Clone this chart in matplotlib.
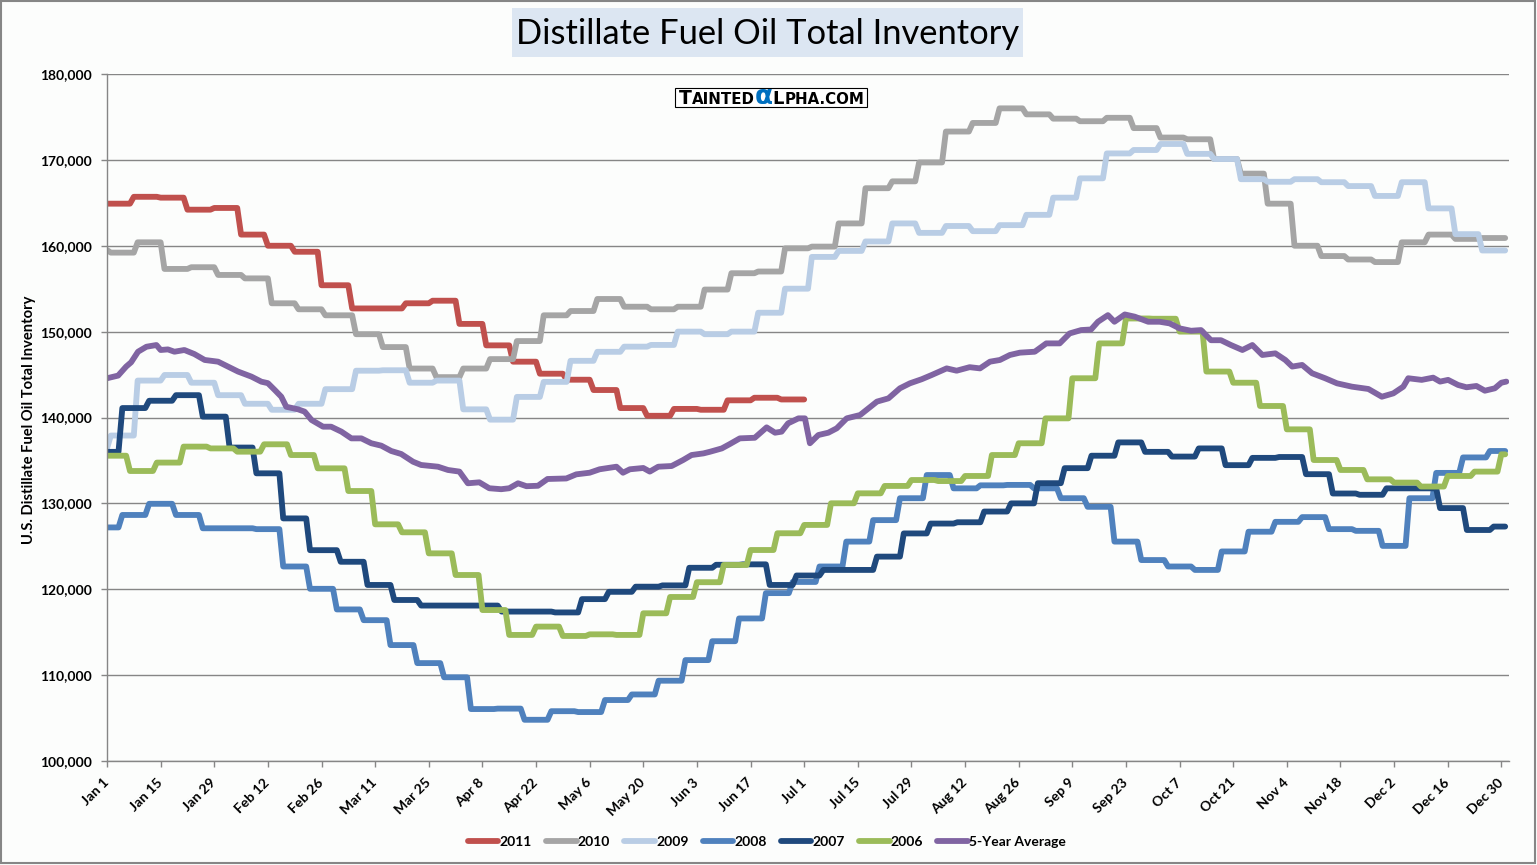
import numpy as np
import matplotlib
matplotlib.use("Agg")
import matplotlib.pyplot as plt
from matplotlib.patches import Rectangle
from matplotlib.text import Annotation

# weekly inventory values (thousand barrels); each year: value carried in before the
# first weekly report, day of the first report, then one value per week
w2011 = [164900, 165700, 165600, 164200, 164400, 161300, 160000, 159300, 155400,
         152700, 152700, 153300, 153600, 150900, 148400, 146500, 145100, 144400,
         143200, 141100, 140200, 141000, 140900, 142000, 142300, 142100]
w2010 = [159200, 160400, 157300, 157500, 156600, 156200, 153300, 152600, 151900,
         149700, 148200, 145700, 144700, 145700, 146800, 148900, 151900, 152400,
         153800, 152900, 152600, 152900, 154900, 156800, 157000, 159700, 159900,
         162600, 166700, 167500, 169700, 173300, 174300, 176000, 175300, 174800,
         174500, 174900, 173700, 172600, 172400, 170100, 168400, 164900, 160000,
         158800, 158400, 158100, 160400, 161300, 160800, 160900]
w2009 = [137900, 144300, 144950, 144050, 142600, 141600, 140900, 141600, 143300,
         145450, 145500, 144050, 144300, 140950, 139750, 142400, 144150, 146600,
         147650, 148250, 148450, 150000, 149700, 150000, 152200, 155000, 158700,
         159400, 160500, 162600, 161500, 162300, 161700, 162400, 163600, 165600,
         167850, 170750, 171150, 171850, 170700, 170100, 167750, 167450, 167750,
         167400, 166950, 165800, 167400, 164350, 161350, 159450]
w2008 = [128650, 129950, 128650, 127100, 127100, 127000, 122650, 120050, 117650,
         116400, 113500, 111400, 109750, 106050, 106100, 104800, 105800, 105700,
         107100, 107750, 109350, 111750, 113950, 116600, 119550, 120850, 122650,
         125550, 128050, 130600, 133300, 131750, 132100, 132150, 131750, 130600,
         129600, 125550, 123400, 122650, 122250, 124400, 126700, 127850, 128400,
         127000, 126800, 125050, 130600, 133550, 135350, 136100]
w2007 = [141100, 141950, 142600, 140100, 136500, 133500, 128250, 124550, 123200,
         120500, 118750, 118100, 118100, 118100, 117400, 117400, 117300, 118850,
         119700, 120300, 120450, 122500, 122850, 122900, 120500, 121600, 122250,
         122250, 123800, 126500, 127650, 127800, 129050, 130000, 132350, 134100,
         135550, 137100, 136000, 135450, 136400, 134450, 135300, 135400, 133400,
         131150, 131000, 131750, 131750, 129450, 126900, 127300]
w2006 = [133770, 134750, 136610, 136400, 136020, 136880, 135630, 134080, 131440,
         127560, 126630, 124180, 121660, 117580, 114680, 115650, 114560, 114750,
         114680, 117200, 119100, 120820, 122830, 124570, 126520, 127490, 130010,
         131170, 132030, 132720, 132600, 133190, 135630, 137000, 139900, 144570,
         148630, 151530, 151500, 150000, 145350, 144050, 141340, 138620, 135050,
         133890, 132800, 132420, 131960, 133190, 133700, 135710]

carry = {"2011": np.nan, "2010": 159500, "2009": 136400,
         "2008": 127200, "2007": 136000, "2006": 135550}
first_report = {"2011": 0, "2010": 1, "2009": 1, "2008": 4, "2007": 4, "2006": 6}
leap_year = {"2011": False, "2010": False, "2009": False,
             "2008": True, "2007": False, "2006": False}
weekly = {"2011": w2011, "2010": w2010, "2009": w2009,
          "2008": w2008, "2007": w2007, "2006": w2006}

# 5-year average (day of year, value)
avg_days = [0, 2.9, 5, 6.3, 8.1, 10.3, 12.9, 14, 15.9, 17.6, 20.2, 22.8, 25.5, 29,
            31.6, 34.2, 37.7, 40.3, 42, 43.8, 45.5, 46.8, 49.9, 51.6, 53.4, 56.4,
            58.5, 61.2, 63.8, 66.4, 69, 71.6, 74.2, 76.8, 79.9, 82, 86.4, 89, 92,
            94.2, 97.2, 99.8, 102.9, 105, 107.3, 109.5, 112.5, 115, 119.9, 122.5,
            126, 128.6, 133, 134.7, 136.5, 140, 141.7, 143.9, 147.4, 150.4, 152.6,
            155.7, 157.4, 160.5, 162.6, 165.2, 169.1, 172.2, 174.4, 176.1, 177.8,
            180.5, 182.2, 183.5, 185.7, 188.3, 190.5, 193.1, 196.6, 198.8, 201, 204,
            207, 209.6, 212.7, 215.3, 219.2, 221.8, 225.2, 227.9, 230.5, 233.1,
            235.7, 238.3, 242.2, 245.2, 248.7, 251.3, 254.3, 256.9, 258.7, 261.3,
            263, 265.7, 268.3, 271.8, 274.8, 277.4, 280, 283, 285.6, 288.2, 290.8,
            293.4, 296.4, 299, 301.6, 305, 307.6, 309.4, 312, 314.6, 318, 321.1,
            325, 329.3, 332.8, 335.8, 338.4, 339.7, 343.2, 346.2, 348, 350.1,
            352.7, 354.9, 357.5, 359.7, 362.3, 364, 365.3]
avg_vals = [144570, 144880, 145930, 146430, 147660, 148240, 148440, 147860, 147930,
            147660, 147860, 147390, 146700, 146500, 145930, 145350, 144760, 144170,
            144000, 143200, 142420, 141250, 140950, 140680, 139710, 138930, 138930,
            138350, 137570, 137570, 137000, 136720, 136100, 135750, 134850, 134470,
            134270, 133890, 133700, 132340, 132450, 131760, 131650, 131760, 132340,
            132000, 132050, 132840, 132900, 133380, 133570, 133970, 134270, 133570,
            133970, 134120, 133700, 134270, 134350, 135050, 135630, 135820, 136010,
            136400, 136910, 137570, 137640, 138850, 138230, 138350, 139320, 139900,
            139900, 137000, 137960, 138230, 138740, 139900, 140290, 141070, 141850,
            142230, 143400, 143980, 144460, 144950, 145720, 145450, 145860, 145720,
            146500, 146700, 147280, 147550, 147660, 148630, 148630, 149790, 150180,
            150250, 151150, 151920, 151150, 152000, 151740, 151150, 151150, 150960,
            150380, 150100, 150180, 149000, 149000, 148440, 147860, 148440, 147280,
            147470, 146700, 145930, 146120, 145150, 144570, 143980, 143590, 143320,
            142420, 142810, 143590, 144570, 144380, 144640, 144180, 144380, 143790,
            143520, 143670, 143120, 143400, 144050, 144180]

tick_labels = ["Jan 1", "Jan 15", "Jan 29", "Feb 12", "Feb 26", "Mar 11", "Mar 25",
               "Apr 8", "Apr 22", "May 6", "May 20", "Jun 3", "Jun 17", "Jul 1",
               "Jul 15", "Jul 29", "Aug 12", "Aug 26", "Sep 9", "Sep 23", "Oct 7",
               "Oct 21", "Nov 4", "Nov 18", "Dec 2", "Dec 16", "Dec 30"]

colors = {"2011": "#c0504d", "2010": "#a5a5a5", "2009": "#b9cde5",
          "2008": "#4f81bd", "2007": "#1f497d", "2006": "#9bbb59"}
avg_color = "#8064a2"
grid_c = "#868686"
font = "Lato"


def daily(year):
    d = np.concatenate([np.full(first_report[year], carry[year]),
                        np.repeat(weekly[year], 7)])
    if not leap_year[year]:
        d = np.insert(d, 59, d[58])  # chart axis runs on a leap-year calendar
    return d[:366]


fig = plt.figure(figsize=(15.37, 8.65), dpi=100, facecolor="#fcfdfc")
ax = fig.add_axes([107 / 1537, 104 / 865, 1402 / 1537, 687 / 865])
ax.set_facecolor("#fcfdfc")

for yr in ["2011", "2010", "2009", "2008", "2007", "2006"]:
    vals = daily(yr)
    ax.plot(np.arange(len(vals)), vals, color=colors[yr], lw=4.2, label=yr,
            solid_capstyle="round", solid_joinstyle="round")
ax.plot(avg_days, avg_vals, color=avg_color, lw=4.2, label="5-Year Average",
        solid_capstyle="round", solid_joinstyle="round")

ax.set_xlim(0, 366)
ax.set_ylim(100000, 180000)
ax.set_yticks(np.arange(100000, 180001, 10000))
ax.set_yticklabels([f"{v:,}" for v in range(100000, 180001, 10000)])
ax.set_xticks(np.arange(0, 365, 14))
ax.set_xticklabels(tick_labels, rotation=45, ha="right", va="center",
                   rotation_mode="anchor")
ax.yaxis.grid(True, color=grid_c, lw=1.0)
ax.set_axisbelow(True)
for s in ["top", "right"]:
    ax.spines[s].set_visible(False)
for s in ["left", "bottom"]:
    ax.spines[s].set_color(grid_c)
    ax.spines[s].set_linewidth(1.0)
ax.tick_params(axis="both", colors=grid_c, length=4, width=1.0)
ax.tick_params(axis="y", pad=7)
ax.tick_params(axis="x", pad=10)
for lab in ax.get_xticklabels() + ax.get_yticklabels():
    lab.set_color("black")
    lab.set_fontfamily(font)
    lab.set_fontweight("bold")
    lab.set_fontsize(10)

fig.text(29 / 1537, 1 - 420 / 865, "U.S. Distillate Fuel Oil Total Inventory",
         rotation=90, ha="center", va="center", family=font, weight="bold",
         fontsize=10.6)

# title with shaded box
fig.add_artist(Rectangle((512 / 1537, 1 - 57 / 865), 511 / 1537, 49 / 865,
                         transform=fig.transFigure, facecolor="#dce6f2",
                         edgecolor="none"))
fig.text(768 / 1537, 1 - 34 / 865, "Distillate Fuel Oil Total Inventory",
         ha="center", va="center", family=font, fontsize=24.8, color="black")

# watermark, pieces laid out one after another on a common baseline
fig.add_artist(Rectangle((675 / 1537, 1 - 107 / 865), 192 / 1537, 19 / 865,
                         transform=fig.transFigure, facecolor="white",
                         edgecolor="black", lw=0.8, zorder=4))
wm_base = 1 - 104 / 865
wm = [("T", 13.5, "black"), ("AINTED", 10.8, "black"), ("\u03b1", 19, "#0070c0"),
      ("L", 13, "black"), ("PHA.COM", 10.8, "black")]
prev = None
for txt, sz, col in wm:
    if prev is None:
        prev = fig.text(679 / 1537, wm_base, txt, fontsize=sz, color=col,
                        family="DejaVu Sans", weight="bold", va="baseline",
                        zorder=5)
    else:
        nxt = Annotation(txt, xy=(1, wm_base), xycoords=(prev, "figure fraction"),
                         fontsize=sz, color=col, family="DejaVu Sans",
                         weight="bold", va="baseline", annotation_clip=False,
                         zorder=5)
        fig.add_artist(nxt)
        prev = nxt

leg = fig.legend(loc="center", bbox_to_anchor=(767 / 1537, 1 - 842 / 865), ncol=7,
                 frameon=False, handlelength=2.2, handletextpad=0.1,
                 columnspacing=1.0, prop={"family": font, "weight": "bold",
                                          "size": 10})

fig.add_artist(Rectangle((0.0005, 0.002), 0.9985, 0.997, transform=fig.transFigure,
                         fill=False, edgecolor=grid_c, lw=1.5))

fig.savefig("out.png", dpi=100, facecolor=fig.get_facecolor())
